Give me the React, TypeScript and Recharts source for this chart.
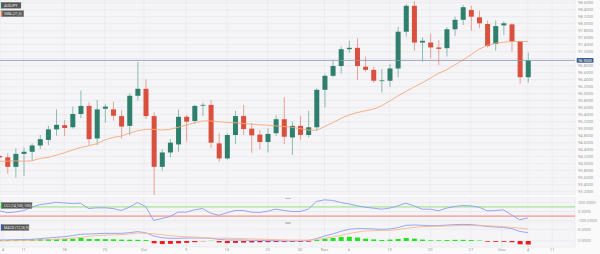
import React from 'react'
import {
  ComposedChart, Bar, Line, XAxis, YAxis, CartesianGrid, ReferenceLine, Cell
} from 'recharts'

// AUD/JPY daily candles, Sep 6 -> Dec 5
const OPEN = [94.22, 94.18, 93.91, 94.28, 94.34, 94.52, 94.68, 94.98, 95.10, 95.04,
  95.42, 95.65, 94.72, 95.57, 95.55, 95.36, 95.08, 95.94, 96.14, 95.36,
  93.91, 94.32, 94.55, 95.34, 95.22, 95.66, 95.68, 94.58, 94.15, 94.82,
  95.36, 95.00, 94.83, 94.62, 94.87, 95.27, 94.75, 95.08, 94.82, 95.04,
  96.11, 96.51, 96.79, 97.27, 97.31, 96.77, 96.68, 96.36, 96.37, 96.72,
  97.77, 98.51, 97.46, 97.46, 97.32, 97.30, 97.84, 98.11, 98.39, 98.18,
  97.99, 97.42, 97.95, 97.98, 97.49, 96.47]
const HIGH = [94.26, 94.30, 94.44, 94.46, 94.58, 94.82, 95.08, 95.55, 95.25, 95.63,
  96.09, 95.75, 95.82, 95.70, 95.77, 95.53, 96.01, 96.91, 96.41, 95.47,
  94.41, 94.70, 95.55, 95.39, 95.68, 95.74, 95.82, 94.87, 94.87, 95.51,
  95.68, 95.15, 94.96, 95.01, 95.38, 95.90, 95.20, 95.36, 95.51, 96.15,
  96.56, 96.93, 97.34, 97.51, 97.58, 97.06, 96.77, 96.70, 96.85, 97.91,
  98.56, 98.65, 97.61, 97.72, 97.53, 97.90, 98.20, 98.53, 98.51, 98.37,
  98.09, 98.09, 98.07, 98.01, 97.51, 97.17]
const LOW = [94.12, 93.71, 93.60, 93.65, 94.08, 94.42, 94.53, 94.80, 94.79, 95.00,
  95.30, 94.53, 94.53, 95.17, 95.23, 94.72, 94.82, 95.80, 95.28, 93.06,
  93.80, 94.18, 94.34, 94.63, 95.13, 95.36, 94.44, 94.06, 94.12, 94.56,
  94.82, 94.31, 94.41, 94.32, 94.79, 94.56, 94.25, 94.68, 94.75, 94.94,
  95.61, 96.47, 96.58, 97.17, 96.39, 96.63, 96.31, 96.03, 96.20, 96.47,
  97.63, 97.23, 96.91, 97.01, 96.82, 97.06, 97.65, 97.96, 97.80, 97.87,
  97.32, 97.23, 97.68, 97.20, 96.28, 96.32]
const CLOSE = [94.18, 93.91, 94.28, 94.34, 94.52, 94.70, 94.98, 95.11, 95.02, 95.42,
  95.65, 94.70, 95.55, 95.63, 95.37, 95.06, 95.94, 96.14, 95.36, 93.91,
  94.32, 94.60, 95.34, 95.20, 95.65, 95.68, 94.60, 94.15, 94.82, 95.36,
  94.99, 94.81, 94.62, 94.85, 95.27, 94.77, 95.08, 94.82, 95.04, 96.11,
  96.51, 96.79, 97.27, 97.31, 96.79, 96.68, 96.37, 96.38, 96.72, 97.77,
  98.51, 97.46, 97.51, 97.32, 97.28, 97.84, 98.11, 98.47, 98.20, 98.01,
  97.36, 97.93, 98.01, 97.49, 96.47, 96.95]
const SMA21 = [94.07, 94.07, 94.08, 94.07, 94.08, 94.15, 94.18, 94.24, 94.31, 94.39,
  94.46, 94.51, 94.57, 94.68, 94.75, 94.79, 94.87, 94.94, 94.98, 94.98,
  94.96, 94.98, 95.04, 95.10, 95.17, 95.22, 95.22, 95.20, 95.18, 95.17,
  95.15, 95.13, 95.11, 95.10, 95.08, 95.06, 95.04, 95.00, 94.96, 94.95,
  95.06, 95.17, 95.29, 95.39, 95.46, 95.51, 95.56, 95.65, 95.79, 95.93,
  96.06, 96.19, 96.31, 96.44, 96.58, 96.68, 96.82, 96.96, 97.11, 97.27,
  97.38, 97.44, 97.47, 97.49, 97.49, 97.49]

const CCI = [15, -25, -10, 20, 95, 150, 172, 200, 185, 175,
  180, 65, 80, 80, 65, 22, 94, 195, 110, -195,
  -152, -108, -14, -14, 36, 65, -36, -80, -29, 22,
  22, -14, -22, 7, 51, 22, 0, 0, 51, 218,
  254, 240, 195, 166, 123, 94, 73, 51, 73, 123,
  181, 123, 51, 51, 15, 73, 108, 130, 123, 94,
  15, 22, 36, -73, -181, -137]

const MACD = [0.043, 0.05, 0.057, 0.064, 0.071, 0.1, 0.128, 0.157, 0.185, 0.228,
  0.285, 0.3, 0.313, 0.328, 0.328, 0.328, 0.356, 0.4, 0.356, 0.214,
  0.142, 0.114, 0.114, 0.128, 0.128, 0.128, 0.114, 0.071, 0.043, 0.043,
  0.043, 0.028, 0.028, 0.014, 0.014, 0.0, 0.0, 0.0, 0.02, 0.1,
  0.214, 0.3, 0.413, 0.5, 0.527, 0.527, 0.513, 0.5, 0.513, 0.57,
  0.67, 0.684, 0.67, 0.655, 0.66, 0.68, 0.70, 0.71, 0.70, 0.67,
  0.62, 0.60, 0.58, 0.53, 0.41, 0.36]
const SIGNAL = [0.0, 0.01, 0.015, 0.02, 0.03, 0.04, 0.05, 0.07, 0.09, 0.12,
  0.15, 0.2, 0.23, 0.25, 0.26, 0.27, 0.3, 0.34, 0.33, 0.31,
  0.27, 0.23, 0.2, 0.18, 0.17, 0.14, 0.12, 0.12, 0.12, 0.11,
  0.1, 0.09, 0.08, 0.07, 0.06, 0.05, 0.04, 0.04, 0.04, 0.06,
  0.11, 0.17, 0.24, 0.32, 0.38, 0.43, 0.44, 0.455, 0.45, 0.485,
  0.54, 0.58, 0.61, 0.625, 0.63, 0.64, 0.65, 0.66, 0.66, 0.65,
  0.65, 0.635, 0.615, 0.58, 0.55, 0.51]
const HIST = [0.04, 0.045, 0.05, 0.06, 0.07, 0.075, 0.08, 0.09, 0.085, 0.1,
  0.14, 0.09, 0.085, 0.08, 0.075, 0.06, 0.055, 0.05, 0.04, -0.1,
  -0.13, -0.12, -0.1, -0.08, -0.05, -0.01, 0.01, -0.06, -0.09, -0.08,
  -0.07, -0.06, -0.055, -0.05, -0.045, -0.045, -0.04, -0.04, -0.03, 0.04,
  0.1, 0.13, 0.17, 0.18, 0.15, 0.1, 0.07, 0.045, 0.06, 0.085,
  0.13, 0.1, 0.06, 0.03, 0.03, 0.04, 0.05, 0.05, 0.04, 0.02,
  -0.03, -0.035, -0.035, -0.05, -0.14, -0.15]

// x axis date labels (candle index they sit on)
const X_TICKS = [0.45, 3, 8, 13, 17.8, 23, 28, 33, 37, 40, 43, 48, 53, 58, 61.8, 65, 68]
const X_LABELS = ['4', '11', '18', '25', 'Oct', '9', '16', '23', '30', 'Nov', '6', '13', '20', '27', 'Dec', '4', '11']

const PRICE_TICKS = [98.6, 98.4, 98.2, 98.0, 97.8, 97.6, 97.4, 97.2, 97.0, 96.8, 96.6, 96.4, 96.2, 96.0,
  95.8, 95.6, 95.4, 95.2, 95.0, 94.8, 94.6, 94.4, 94.2, 94.0, 93.8, 93.6, 93.4, 93.2]
const CCI_TICKS = [200, 0, -200]
const CCI_LEVELS = [100, -100]
const MACD_TICKS = [0.5, 0]

const rows = OPEN.map((o, i) => ({
  i, o, h: HIGH[i], l: LOW[i], c: CLOSE[i], sma: SMA21[i],
  cci: CCI[i], macd: MACD[i], signal: SIGNAL[i], hist: HIST[i],
}))
const LAST = CLOSE[CLOSE.length - 1]

const GREEN = '#2e7f6c'
const RED = '#d9503e'
const GRID = '#e6e6eb'
const PLOT_BG = '#f5f5f7'
const TICK = { fontSize: 4.2, fill: '#9a9a9a' }
const X_DOMAIN = [0.1, 70.8]

const Candle = (props: any) => {
  const { x, y, width, height, payload } = props
  if (!payload) return null
  const { o, h, l, c } = payload
  const top = Math.min(y, y + height)
  const bot = Math.max(y, y + height)
  const k = h === l ? 0 : (bot - top) / (h - l)
  const col = c >= o ? GREEN : RED
  const bTop = top + (h - Math.max(o, c)) * k
  const bBot = top + (h - Math.min(o, c)) * k
  const cx = x + width / 2
  return (
    <g>
      <line x1={cx} x2={cx} y1={top} y2={bot} stroke={col} strokeOpacity={0.5} strokeWidth={1} />
      <rect x={x} y={bTop} width={width} height={Math.max(bBot - bTop, 0.8)} fill={col} />
    </g>
  )
}

// price axis label, hidden where the last-price tag sits on top of it
const PriceTick = (props: any) => {
  const { x, y, payload } = props
  if (Math.abs(payload.value - LAST) < 0.1) return null
  return <text x={x} y={y + 1.5} fontSize={TICK.fontSize} fill={TICK.fill}>{payload.value.toFixed(4)}</text>
}

const PriceTag = (props: any) => {
  const { viewBox } = props
  if (!viewBox) return null
  const x = viewBox.x + viewBox.width + 1.7
  const y = viewBox.y
  return (
    <g>
      <rect x={x} y={y - 2.3} width={16.8} height={4.6} fill='#3d5a8c' rx={0.6} />
      <text x={x + 8.4} y={y + 1.4} fontSize={3.8} fill='#fff' textAnchor='middle'>{LAST.toFixed(4)}</text>
    </g>
  )
}

const Tag = ({ x, y, w, color, text }: any) => (
  <g>
    <rect x={x} y={y} width={w} height={6} fill='#555' stroke='#8a8a8a' strokeWidth={0.4} />
    <rect x={x} y={y} width={1.3} height={6} fill={color} />
    <text x={x + 3} y={y + 4.3} fontSize={3.6} fill='#eee'>{text}</text>
  </g>
)

const axisProps = {
  orientation: 'right' as const, width: 25, axisLine: false, tickLine: false, tickSize: 0,
  tickMargin: 3, tick: TICK, interval: 0 as const, allowDataOverflow: true,
}

export default function App() {
  return (
    <div style={{ position: 'absolute', left: 0, top: 0, width: 600, height: 254,
      background: '#fafafb', fontFamily: 'Roboto, sans-serif', overflow: 'hidden' }}>

      <div style={{ position: 'absolute', left: 0, top: 0 }}>
        <ComposedChart width={600} height={195} data={rows} margin={{ top: 0, right: 0, bottom: 0, left: 0 }}>
          <CartesianGrid stroke={GRID} strokeWidth={0.6} fill={PLOT_BG} />
          <XAxis type='number' dataKey='i' domain={X_DOMAIN} ticks={X_TICKS} hide allowDataOverflow />
          <YAxis {...axisProps} domain={[93.105, 98.676]} ticks={PRICE_TICKS} tick={<PriceTick />} />
          <Bar dataKey={(d: any) => [d.l, d.h]} barSize={5} shape={<Candle />} isAnimationActive={false} />
          <Line dataKey='sma' stroke='#f6a877' strokeWidth={0.9} dot={false} isAnimationActive={false} />
          <ReferenceLine y={LAST} stroke='#8497b8' strokeWidth={0.8} label={<PriceTag />} />
        </ComposedChart>
      </div>

      <div style={{ position: 'absolute', left: 0, top: 222 }}>
        <ComposedChart width={600} height={32} data={rows} margin={{ top: 0, right: 0, bottom: 0, left: 0 }}>
          <CartesianGrid stroke={GRID} strokeWidth={0.6} fill={PLOT_BG} />
          <XAxis type='number' dataKey='i' domain={X_DOMAIN} ticks={X_TICKS} allowDataOverflow
            height={7} axisLine={false} tickLine={false} tickSize={0} tickMargin={1} tick={TICK} interval={0}
            tickFormatter={(v: number) => X_LABELS[X_TICKS.indexOf(v)] ?? ''} />
          <YAxis {...axisProps} domain={[-0.256, 0.812]} ticks={MACD_TICKS}
            tickFormatter={(v: number) => v.toFixed(4)} />
          <Bar dataKey='hist' barSize={5} isAnimationActive={false}>
            {rows.map((r, k) => <Cell key={k} fill={r.hist >= 0 ? '#1fe41f' : '#f01c1c'} />)}
          </Bar>
          <Line dataKey='macd' stroke='#8c9cf2' strokeWidth={0.9} dot={false} isAnimationActive={false} />
          <Line dataKey='signal' stroke='#f7b98e' strokeWidth={0.9} dot={false} isAnimationActive={false} />
        </ComposedChart>
      </div>

      {/* CCI drawn after MACD so its lowest axis label may spill over the gap */}
      <div style={{ position: 'absolute', left: 0, top: 197 }}>
        <ComposedChart width={600} height={28} data={rows} margin={{ top: 0, right: 0, bottom: 4, left: 0 }}>
          <CartesianGrid stroke={GRID} strokeWidth={0.6} fill={PLOT_BG} />
          <XAxis type='number' dataKey='i' domain={X_DOMAIN} ticks={X_TICKS} hide allowDataOverflow />
          <YAxis {...axisProps} domain={[-206, 315]} ticks={CCI_TICKS}
            tickFormatter={(v: number) => v.toFixed(4)} />
          <ReferenceLine y={CCI_LEVELS[0]} stroke='#b9ebb1' strokeWidth={1.6} />
          <ReferenceLine y={CCI_LEVELS[1]} stroke='#f4b0ad' strokeWidth={1.6} />
          <Line dataKey='cci' stroke='#8c9cf2' strokeWidth={0.9} dot={false} isAnimationActive={false} />
        </ComposedChart>
      </div>

      <div style={{ position: 'absolute', left: 285, top: 197.5, width: 6, height: 1.5, background: '#c4c4c8', borderRadius: 1 }} />
      <div style={{ position: 'absolute', left: 285, top: 222.3, width: 6, height: 1.5, background: '#c4c4c8', borderRadius: 1 }} />

      <svg width={600} height={254} style={{ position: 'absolute', left: 0, top: 0, pointerEvents: 'none' }}>
        <Tag x={1} y={2.3} w={20} color={GREEN} text='AUDJPY' />
        <Tag x={1} y={10.7} w={22.7} color='#f08a4b' text='SMA (21,0)' />
        <Tag x={1} y={202.5} w={31} color='#2fb52f' text='CCI (14,100,-100)' />
        <Tag x={1} y={224.5} w={28} color='#3b50d8' text='MACD (12,26,9)' />
      </svg>
    </div>
  )
}
